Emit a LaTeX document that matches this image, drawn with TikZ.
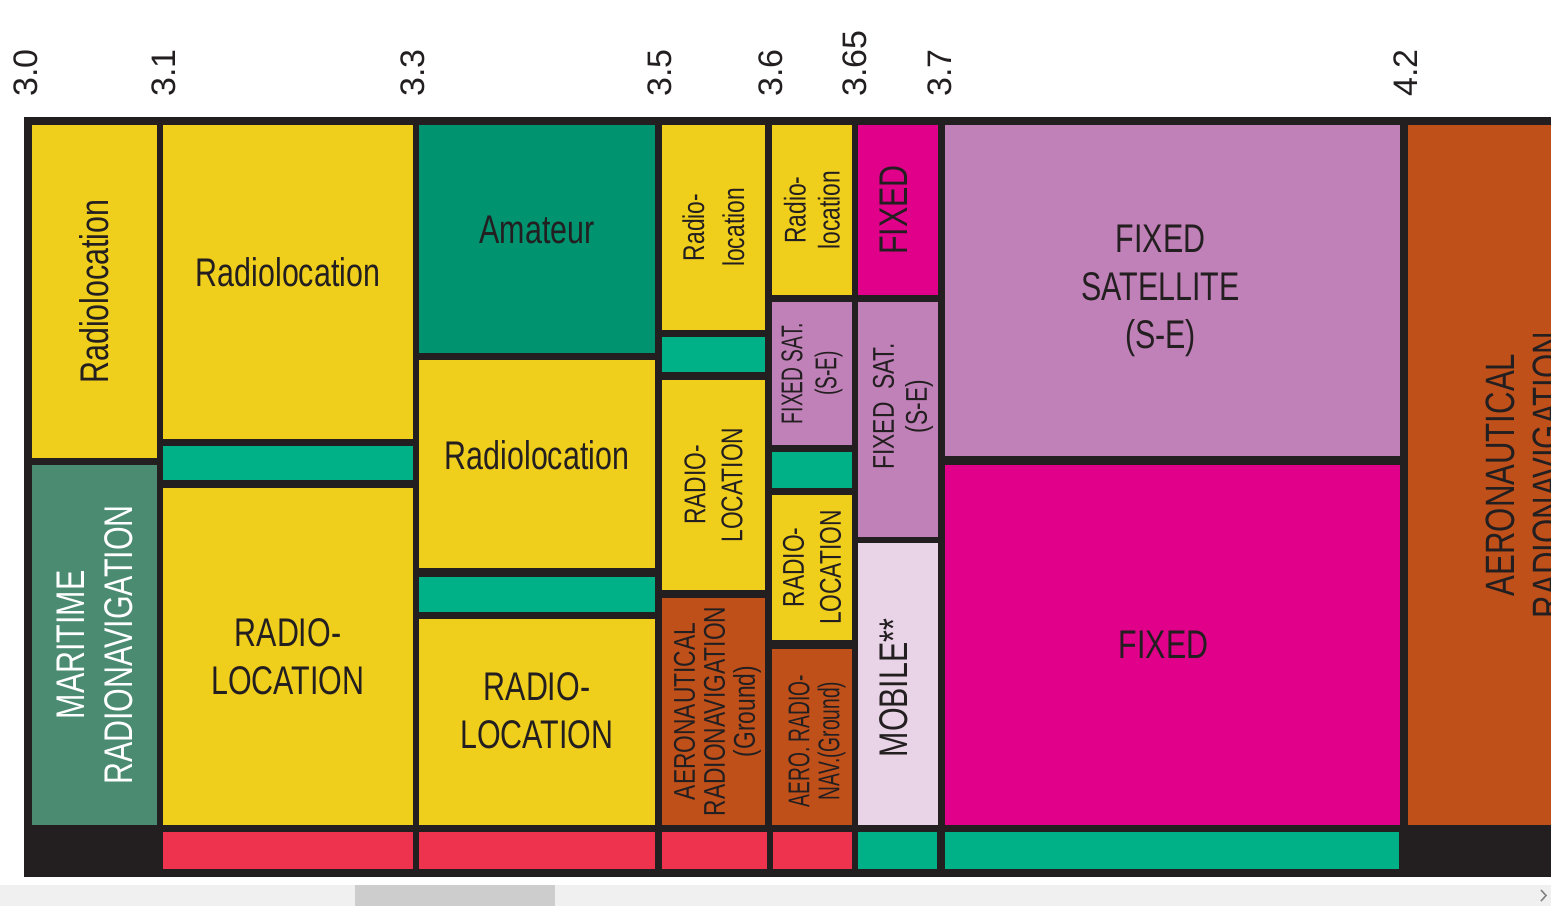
\documentclass[tikz,border=0pt]{standalone}
\usepackage{fontspec}
\setmainfont{Liberation Sans}
\newfontfamily\condfont{Liberation Sans}[FakeStretch=0.76]
\newfontfamily\narrowfont{Liberation Sans}[FakeStretch=0.64]
\usepackage{xcolor}
\usetikzlibrary{fit}

\definecolor{ink}{HTML}{231F20}
\definecolor{rlyellow}{HTML}{F0CE1C}
\definecolor{amgreen}{HTML}{009370}
\definecolor{gapteal}{HTML}{00B086}
\definecolor{margreen}{HTML}{4A8B72}
\definecolor{stripred}{HTML}{EE334E}
\definecolor{aerobrown}{HTML}{C0501A}
\definecolor{fsviolet}{HTML}{C080B8}
\definecolor{fixmagenta}{HTML}{E0008A}
\definecolor{moblilac}{HTML}{E8D4E6}
\definecolor{scrollbg}{HTML}{F0F0F0}
\definecolor{scrollthumb}{HTML}{CDCDCD}

\begin{document}
\begin{tikzpicture}[
    x=1pt, y=-1pt,
    band/.style={rectangle, draw=none, inner sep=0pt, outer sep=0pt},
    biglbl/.style={text=ink, align=center, inner sep=0pt,
                   font=\condfont\fontsize{40}{48}\selectfont},
    smalllbl/.style={text=ink, align=center, inner sep=0pt,
                     font=\condfont\fontsize{30}{37}\selectfont},
    tightlbl/.style={smalllbl, font=\condfont\fontsize{30}{30}\selectfont},
    narrowlbl/.style={smalllbl, font=\narrowfont\fontsize{30}{34}\selectfont},
    ticklbl/.style={text=ink, rotate=90, anchor=west, inner sep=0pt,
                    font=\fontsize{34}{40}\selectfont},
]
\useasboundingbox (0,0) rectangle (1551,906);
\clip (0,0) rectangle (1551,906);
\fill[white] (0,0) rectangle (1551,906);

% Frame
\node[band, fill=ink, fit={(24,117) (1700,877)}] (frame) {};

% 3.0 - 3.1
\node[band, fill=rlyellow, fit={(32,125) (157,458)}, label={[biglbl, rotate=90]center:Radiolocation}] (rloc1) {};
\node[band, fill=margreen, fit={(32,465) (157,825)}, label={[biglbl, text=white, rotate=90]center:MARITIME\\RADIONAVIGATION}] (marnav) {};

% 3.1 - 3.3
\node[band, fill=rlyellow, fit={(163,125) (413,439)}, label={[biglbl, yshift=10pt]center:Radiolocation}] (rloc2) {};
\node[band, fill=gapteal, fit={(163,446) (413,480)}] (gap2) {};
\node[band, fill=rlyellow, fit={(163,488) (413,825)}, label={[biglbl]center:RADIO-\\LOCATION}] (rloc3) {};

% 3.3 - 3.5
\node[band, fill=amgreen, fit={(419,125) (655,353)}, label={[biglbl, yshift=9pt]center:Amateur}] (amat) {};
\node[band, fill=rlyellow, fit={(419,360) (655,568)}, label={[biglbl, yshift=9pt]center:Radiolocation}] (rloc4) {};
\node[band, fill=gapteal, fit={(419,577) (655,612)}] (gap3) {};
\node[band, fill=rlyellow, fit={(419,619) (655,825)}, label={[biglbl, yshift=11pt]center:RADIO-\\LOCATION}] (rloc5) {};

% 3.5 - 3.6
\node[band, fill=rlyellow, fit={(662,125) (765,330)}, label={[smalllbl, font=\condfont\fontsize{30}{40}\selectfont, rotate=90]center:Radio-\\location}] (rloc6) {};
\node[band, fill=gapteal, fit={(662,337) (765,372)}] (gap4) {};
\node[band, fill=rlyellow, fit={(662,380) (765,590)}, label={[smalllbl, rotate=90]center:RADIO-\\LOCATION}] (rloc7) {};
\node[band, fill=aerobrown, fit={(662,598) (765,825)}, label={[tightlbl, xshift=4pt, rotate=90]center:AERONAUTICAL\\RADIONAVIGATION\\(Ground)}] (aero1) {};

% 3.6 - 3.65
\node[band, fill=rlyellow, fit={(772,125) (852,295)}, label={[smalllbl, font=\condfont\fontsize{30}{34}\selectfont, rotate=90]center:Radio-\\location}] (rloc8) {};
\node[band, fill=fsviolet, fit={(772,302) (852,445)}, label={[narrowlbl, rotate=90]center:FIXED SAT.\\(S-E)}] (fsat1) {};
\node[band, fill=gapteal, fit={(772,452) (852,488)}] (gap5) {};
\node[band, fill=rlyellow, fit={(772,495) (852,640)}, label={[smalllbl, rotate=90]center:RADIO-\\LOCATION}] (rloc9) {};
\node[band, fill=aerobrown, fit={(772,649) (852,825)}, label={[narrowlbl, font=\narrowfont\fontsize{30}{30}\selectfont, xshift=5pt, yshift=-4pt, rotate=90]center:AERO. RADIO-\\NAV.(Ground)}] (aero2) {};

% 3.65 - 3.7
\node[band, fill=fixmagenta, fit={(858,125) (938,295)}, label={[biglbl, xshift=-4pt, rotate=90]center:FIXED}] (fix1) {};
\node[band, fill=fsviolet, fit={(858,302) (938,537)}, label={[smalllbl, font=\condfont\fontsize{30}{33}\selectfont, xshift=5pt, yshift=13pt, rotate=90]center:FIXED\ \ SAT.\\(S-E)}] (fsat2) {};
\node[band, fill=moblilac, fit={(858,543) (938,825)}, label={[biglbl, xshift=-4pt, yshift=-4pt, rotate=90]center:MOBILE**}] (mob) {};

% 3.7 - 4.2
\node[band, fill=fsviolet, fit={(945,125) (1400,456)}, label={[biglbl, xshift=-12pt]center:FIXED\\SATELLITE\\(S-E)}] (fsat3) {};
\node[band, fill=fixmagenta, fit={(945,465) (1400,825)}, label={[biglbl, xshift=-9pt]center:FIXED}] (fix2) {};

% 4.2 and up
\node[band, fill=aerobrown, fit={(1408,125) (1640,825)}, label={[biglbl, font=\condfont\fontsize{41}{47}\selectfont, rotate=90]center:AERONAUTICAL\\RADIONAVIGATION}] (aero3) {};

% Bottom strips
\foreach \a/\b/\c [count=\i] in {163/413/stripred, 419/655/stripred, 662/767/stripred,
    773/852/stripred, 858/937/gapteal, 945/1399/gapteal}
  \node[band, fill=\c, fit={(\a,832) (\b,869)}] (strip\i) {};

% Frequency ticks
\foreach \x/\f [count=\i] in {26/3.0, 164/3.1, 413/3.3, 660/3.5, 771/3.6, 855/3.65, 940/3.7, 1406/4.2}
  \node[ticklbl] (tick\i) at (\x,97) {\f};

% Scroll bar
\fill[scrollbg] (0,885) rectangle (1551,906);
\fill[scrollthumb] (355,885) rectangle (555,906);
\draw[gray, line width=1.5pt] (1541,890) -- (1546,895.5) -- (1541,901);
\end{tikzpicture}
\end{document}
